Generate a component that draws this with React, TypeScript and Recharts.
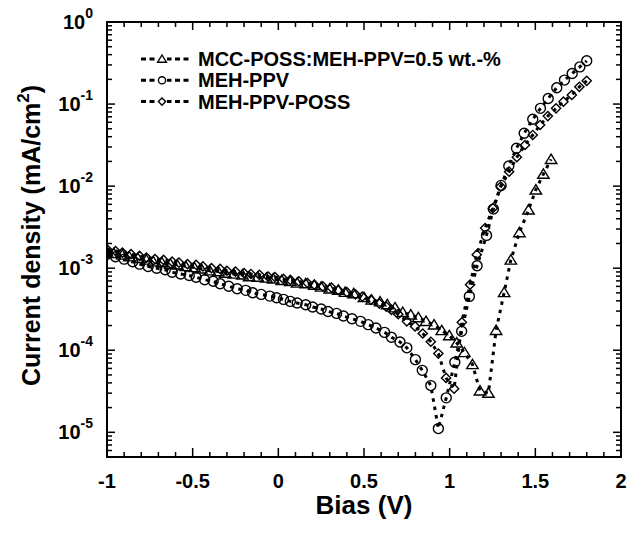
import React from "react";
import { ComposedChart, Line, XAxis, YAxis, Legend, Label, ReferenceArea } from "recharts";

// MCC-POSS:MEH-PPV=0.5 wt.-%  (triangles)
const triBias = [
  -1.0, -0.96, -0.91, -0.87, -0.82, -0.77, -0.73, -0.68, -0.63, -0.59, -0.54, -0.49,
  -0.45, -0.4, -0.35, -0.31, -0.26, -0.21, -0.17, -0.12, -0.07, -0.03, 0.02, 0.07,
  0.11, 0.16, 0.21, 0.25, 0.3, 0.35, 0.39, 0.44, 0.5, 0.545, 0.594, 0.636, 0.681,
  0.726, 0.773, 0.817, 0.862, 0.909, 0.954, 0.998, 1.041, 1.086, 1.133, 1.177, 1.226,
  1.271, 1.318, 1.357, 1.407, 1.46, 1.503, 1.547, 1.592,
];
const triCurrent = [
  1.58e-3, 1.51e-3, 1.45e-3, 1.38e-3, 1.32e-3, 1.26e-3, 1.2e-3, 1.17e-3, 1.12e-3, 1.1e-3,
  1.05e-3, 1.02e-3, 9.8e-4, 9.3e-4, 9.1e-4, 8.7e-4, 8.5e-4, 8.3e-4, 7.9e-4, 7.8e-4,
  7.6e-4, 7.4e-4, 7.1e-4, 6.9e-4, 6.6e-4, 6.5e-4, 6.2e-4, 5.9e-4, 5.6e-4, 5.4e-4,
  5.1e-4, 4.9e-4, 4.4e-4, 4.1e-4, 3.9e-4, 3.6e-4, 3.3e-4, 2.9e-4, 2.7e-4, 2.5e-4,
  2.25e-4, 2.04e-4, 1.74e-4, 1.51e-4, 1.23e-4, 9.4e-5, 6.7e-5, 3.2e-5, 3.0e-5,
  1.75e-4, 5.06e-4, 1.26e-3, 2.72e-3, 5.13e-3, 9.0e-3, 1.4e-2, 2.12e-2,
];

// MEH-PPV  (circles)
const circBias = [
  -1.0, -0.95, -0.9, -0.85, -0.81, -0.76, -0.71, -0.66, -0.62, -0.57, -0.52, -0.48,
  -0.43, -0.38, -0.34, -0.29, -0.24, -0.19, -0.15, -0.1, -0.05, -0.01, 0.03, 0.07,
  0.11, 0.16, 0.2, 0.25, 0.29, 0.34, 0.38, 0.43, 0.48, 0.525, 0.57, 0.62, 0.66, 0.71,
  0.75, 0.8, 0.84, 0.89, 0.934, 0.98, 1.03, 1.07, 1.115, 1.16, 1.215, 1.255, 1.3,
  1.345, 1.39, 1.435, 1.485, 1.53, 1.575, 1.625, 1.67, 1.715, 1.76, 1.8,
];
const circCurrent = [
  1.48e-3, 1.38e-3, 1.29e-3, 1.2e-3, 1.12e-3, 1.05e-3, 1.0e-3, 9.55e-4, 8.91e-4, 8.51e-4,
  8.13e-4, 7.76e-4, 7.24e-4, 6.92e-4, 6.46e-4, 6.03e-4, 5.62e-4, 5.37e-4, 5.01e-4,
  4.79e-4, 4.57e-4, 4.37e-4, 4.17e-4, 3.94e-4, 3.76e-4, 3.59e-4, 3.37e-4, 3.18e-4,
  2.97e-4, 2.81e-4, 2.61e-4, 2.42e-4, 2.25e-4, 2.05e-4, 1.87e-4, 1.65e-4, 1.44e-4,
  1.26e-4, 1.07e-4, 7.69e-5, 5.69e-5, 3.71e-5, 1.11e-5, 2.63e-5, 7.13e-5, 1.7e-4,
  4.53e-4, 1.07e-3, 2.51e-3, 5.25e-3, 1.02e-2, 1.76e-2, 2.89e-2, 4.4e-2, 6.52e-2,
  8.87e-2, 0.117, 0.158, 0.196, 0.236, 0.284, 0.337,
];

// MEH-PPV-POSS  (diamonds)
const diaBias = [
  -1.0, -0.95, -0.91, -0.86, -0.81, -0.77, -0.72, -0.67, -0.62, -0.58, -0.53, -0.48,
  -0.44, -0.39, -0.34, -0.3, -0.25, -0.2, -0.16, -0.11, -0.06, -0.02, 0.03, 0.07, 0.12,
  0.17, 0.21, 0.26, 0.31, 0.35, 0.4, 0.45, 0.49, 0.54, 0.59, 0.63, 0.66, 0.7, 0.75,
  0.798, 0.843, 0.89, 0.934, 0.979, 1.026, 1.071, 1.119, 1.158, 1.207, 1.252, 1.298,
  1.347, 1.392, 1.44, 1.485, 1.528, 1.573, 1.621, 1.664, 1.713, 1.757, 1.8,
];
const diaCurrent = [
  1.7e-3, 1.62e-3, 1.55e-3, 1.48e-3, 1.41e-3, 1.35e-3, 1.29e-3, 1.26e-3, 1.2e-3, 1.17e-3,
  1.12e-3, 1.1e-3, 1.05e-3, 1.0e-3, 9.8e-4, 9.3e-4, 9.1e-4, 8.7e-4, 8.5e-4, 8.3e-4,
  7.9e-4, 7.8e-4, 7.4e-4, 7.2e-4, 6.9e-4, 6.6e-4, 6.3e-4, 6.0e-4, 5.8e-4, 5.4e-4,
  5.1e-4, 4.8e-4, 4.5e-4, 4.1e-4, 3.7e-4, 3.4e-4, 3.1e-4, 2.75e-4, 2.25e-4, 1.95e-4,
  1.6e-4, 1.27e-4, 9.1e-5, 4.6e-5, 3.4e-5, 2.19e-4, 6.3e-4, 1.46e-3, 3.08e-3, 5.38e-3,
  9.86e-3, 1.5e-2, 2.25e-2, 3.17e-2, 4.2e-2, 5.56e-2, 7.14e-2, 8.87e-2, 0.107, 0.129,
  0.162, 0.192,
];

const seriesNames = ["MCC-POSS:MEH-PPV=0.5 wt.-%", "MEH-PPV", "MEH-PPV-POSS"];

const xTicks = [
  -1, -0.9, -0.8, -0.7, -0.6, -0.5, -0.4, -0.3, -0.2, -0.1, 0, 0.1, 0.2, 0.3, 0.4, 0.5,
  0.6, 0.7, 0.8, 0.9, 1, 1.1, 1.2, 1.3, 1.4, 1.5, 1.6, 1.7, 1.8, 1.9, 2,
];
const xMajorTicks = [-1, -0.5, 0, 0.5, 1, 1.5, 2];
const yMajorTicks = [1e-5, 1e-4, 1e-3, 1e-2, 1e-1, 1];
const yMinorTicks = [
  6e-6, 7e-6, 8e-6, 9e-6,
  2e-5, 3e-5, 4e-5, 5e-5, 6e-5, 7e-5, 8e-5, 9e-5,
  2e-4, 3e-4, 4e-4, 5e-4, 6e-4, 7e-4, 8e-4, 9e-4,
  2e-3, 3e-3, 4e-3, 5e-3, 6e-3, 7e-3, 8e-3, 9e-3,
  2e-2, 3e-2, 4e-2, 5e-2, 6e-2, 7e-2, 8e-2, 9e-2,
  0.2, 0.3, 0.4, 0.5, 0.6, 0.7, 0.8, 0.9,
];
const yTicks = [...yMinorTicks, ...yMajorTicks].sort((a, b) => a - b);

const zip = (xs: number[], ys: number[]) => xs.map((x, i) => ({ x, y: ys[i] }));
const triData = zip(triBias, triCurrent);
const circData = zip(circBias, circCurrent);
const diaData = zip(diaBias, diaCurrent);

const FONT = "'Liberation Sans', Arial, Helvetica, sans-serif";
const W = 637;
const H = 534;

const isMajorY = (v: number) => yMajorTicks.includes(v);
const isMajorX = (v: number) => xMajorTicks.includes(v);

// markers
const triPath = (cx: number, cy: number, s: number) =>
  `M${cx},${cy - s}L${cx + s * 1.1},${cy + s * 0.8}L${cx - s * 1.1},${cy + s * 0.8}Z`;
const diaPath = (cx: number, cy: number, s: number) =>
  `M${cx},${cy - s}L${cx + s},${cy}L${cx},${cy + s}L${cx - s},${cy}Z`;

const marker = (kind: string, cx: number, cy: number, s: number, key?: any) => {
  if (kind === "tri")
    return <path key={key} d={triPath(cx, cy, s)} fill="none" stroke="#000" strokeWidth={1.4} />;
  if (kind === "dia")
    return <path key={key} d={diaPath(cx, cy, s)} fill="none" stroke="#000" strokeWidth={1.4} />;
  return <circle key={key} cx={cx} cy={cy} r={s} fill="none" stroke="#000" strokeWidth={1.4} />;
};

const makeDot = (kind: string, size: number) => (props: any) => {
  const { cx, cy, index } = props;
  if (cx == null || cy == null) return <g key={`${kind}-${index}`} />;
  return marker(kind, cx, cy, size, `${kind}-${index}`);
};

// ticks drawn inward from the frame
const LeftTick = (props: any) => {
  const { x, y, payload } = props;
  const v = payload.value;
  const major = isMajorY(v);
  const exp = Math.round(Math.log10(v));
  return (
    <g>
      <line x1={x} x2={x + (major ? 8 : 5)} y1={y} y2={y} stroke="#000" strokeWidth={1.5} />
      {major && (
        <text x={x - 14} y={y + 7} textAnchor="end" fontSize={20} fontWeight="bold" fontFamily={FONT} fill="#000">
          10
          <tspan dy={-11.5} fontSize={14}>{`${exp}`}</tspan>
        </text>
      )}
    </g>
  );
};

const RightTick = (props: any) => {
  const { x, y, payload } = props;
  const major = isMajorY(payload.value);
  return <line x1={x} x2={x - (major ? 8 : 5)} y1={y} y2={y} stroke="#000" strokeWidth={1.5} />;
};

const BottomTick = (props: any) => {
  const { x, y, payload } = props;
  const major = isMajorX(payload.value);
  return (
    <g>
      <line x1={x} x2={x} y1={y} y2={y - (major ? 9 : 5)} stroke="#000" strokeWidth={1.5} />
      {major && (
        <text x={x} y={y + 31} textAnchor="middle" fontSize={20} fontWeight="bold" fontFamily={FONT} fill="#000">
          {`${payload.value}`}
        </text>
      )}
    </g>
  );
};

const TopTick = (props: any) => {
  const { x, y, payload } = props;
  const major = isMajorX(payload.value);
  return <line x1={x} x2={x} y1={y} y2={y + (major ? 8 : 5)} stroke="#000" strokeWidth={1.5} />;
};

const YTitle = (props: any) => {
  const { viewBox } = props;
  const cx = viewBox.x + 31;
  const cy = viewBox.y + viewBox.height / 2 - 4;
  return (
    <text
      x={cx}
      y={cy + 9}
      transform={`rotate(-90, ${cx}, ${cy})`}
      textAnchor="middle"
      fontSize={25}
      fontWeight="bold"
      fontFamily={FONT}
      fill="#000"
    >
      Current density (mA/cm
      <tspan dy={-11} fontSize={17}>2</tspan>
      <tspan dy={11}>)</tspan>
    </text>
  );
};

const XTitle = (props: any) => {
  const { viewBox } = props;
  return (
    <text
      x={viewBox.x + viewBox.width / 2}
      y={viewBox.y + 57}
      textAnchor="middle"
      fontSize={26}
      fontWeight="bold"
      fontFamily={FONT}
      fill="#000"
    >
      Bias (V)
    </text>
  );
};

const legendRows = [
  { kind: "tri", name: seriesNames[0] },
  { kind: "circ", name: seriesNames[1] },
  { kind: "dia", name: seriesNames[2] },
];

const LegendBox = () => (
  <svg width={390} height={70} style={{ display: "block" }}>
    {legendRows.map((r, i) => {
      const y = 14 + i * 21.3;
      return (
        <g key={r.name}>
          <line x1={7} x2={55} y1={y} y2={y} stroke="#000" strokeWidth={3} strokeDasharray="5 3.5" />
          <rect x={23} y={y - 5} width={10} height={10} fill="#fff" />
          {marker(r.kind, 28, y, r.kind === "tri" ? 4 : 3.6)}
          <text x={64} y={y + 7} fontSize={20} fontWeight="bold" fontFamily={FONT} fill="#000">
            {r.name}
          </text>
        </g>
      );
    })}
  </svg>
);

const axisStroke = { stroke: "#000", strokeWidth: 2 };

export default function App() {
  return (
    <div style={{ position: "absolute", left: 0, top: 0, width: W, height: H, background: "#fff" }}>
      <ComposedChart width={W} height={H} margin={{ top: 21, right: 15, bottom: 0, left: 0 }}>
        <XAxis
          xAxisId="bottom"
          dataKey="x"
          type="number"
          domain={[-1, 2]}
          ticks={xTicks}
          interval={0}
          allowDataOverflow
          height={77}
          tickSize={0}
          tickMargin={0}
          tickLine={false}
          tick={BottomTick}
          stroke="#000"
          axisLine={axisStroke}
        >
          <Label content={XTitle} />
        </XAxis>
        <XAxis
          xAxisId="top"
          orientation="top"
          dataKey="x"
          type="number"
          domain={[-1, 2]}
          ticks={xTicks}
          interval={0}
          allowDataOverflow
          height={1}
          tickSize={0}
          tickMargin={0}
          tickLine={false}
          tick={TopTick}
          stroke="#000"
          axisLine={axisStroke}
        />
        <YAxis
          yAxisId="left"
          type="number"
          scale="log"
          domain={[5e-6, 1]}
          ticks={yTicks}
          interval={0}
          allowDataOverflow
          width={107}
          tickSize={0}
          tickMargin={0}
          tickLine={false}
          tick={LeftTick}
          stroke="#000"
          axisLine={axisStroke}
        >
          <Label content={YTitle} />
        </YAxis>
        <YAxis
          yAxisId="right"
          orientation="right"
          type="number"
          scale="log"
          domain={[5e-6, 1]}
          ticks={yTicks}
          interval={0}
          allowDataOverflow
          width={1}
          tickSize={0}
          tickMargin={0}
          tickLine={false}
          tick={RightTick}
          stroke="#000"
          axisLine={axisStroke}
        />
        <ReferenceArea
          xAxisId="bottom"
          yAxisId="left"
          x1={-1}
          x2={2}
          y1={5e-6}
          y2={1}
          fill="none"
          stroke="#000"
          strokeWidth={2}
          ifOverflow="visible"
        />
        <Legend
          layout="vertical"
          align="center"
          verticalAlign="middle"
          wrapperStyle={{ top: 45, left: 134, width: 390, height: 70 }}
          content={LegendBox}
        />
        <Line
          xAxisId="bottom"
          yAxisId="left"
          data={circData}
          dataKey="y"
          name={seriesNames[1]}
          type="linear"
          stroke="#000"
          strokeWidth={3}
          strokeDasharray="3.5 5"
          dot={makeDot("circ", 5)}
          activeDot={false}
          isAnimationActive={false}
        />
        <Line
          xAxisId="bottom"
          yAxisId="left"
          data={diaData}
          dataKey="y"
          name={seriesNames[2]}
          type="linear"
          stroke="#000"
          strokeWidth={3}
          strokeDasharray="3.5 5"
          dot={makeDot("dia", 4.6)}
          activeDot={false}
          isAnimationActive={false}
        />
        <Line
          xAxisId="bottom"
          yAxisId="left"
          data={triData}
          dataKey="y"
          name={seriesNames[0]}
          type="linear"
          stroke="#000"
          strokeWidth={3}
          strokeDasharray="3.5 5"
          dot={makeDot("tri", 5.2)}
          activeDot={false}
          isAnimationActive={false}
        />
      </ComposedChart>
    </div>
  );
}
